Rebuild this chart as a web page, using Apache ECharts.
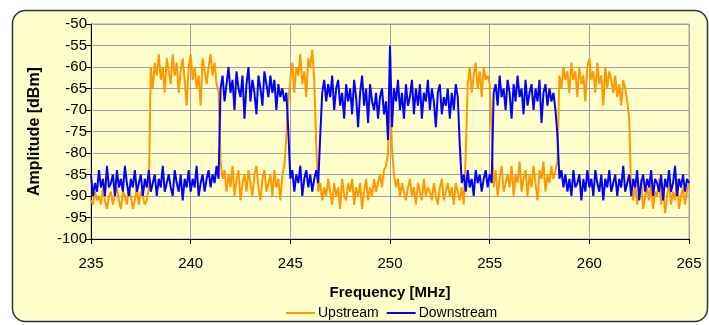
<!DOCTYPE html>
<html>
<head>
<meta charset="utf-8">
<script src="https://cdn.jsdelivr.net/npm/echarts@6/dist/echarts.min.js"></script>
<style>
html,body{margin:0;padding:0;background:#fff;}
#c{width:709px;height:325px;}
</style>
</head>
<body>
<div id="c"></div>
<script>
// Frequency grid (MHz) of the sampled spectrum
const freqStart = 235;
const freqStep = 0.1;
const xTicks = [235, 240, 245, 250, 255, 260, 265];
const yTicks = [-100, -95, -90, -85, -80, -75, -70, -65, -60, -55, -50];
const seriesNames = ['Upstream', 'Downstream'];

// Amplitude [dBm], one value per 0.1 MHz
const upstream = [
 -91,-92,-89,-91,-90,-92,-88,-91,-93,-90,
 -89,-92,-90,-88,-91,-93,-89,-90,-92,-88,
 -90,-93,-91,-88,-92,-89,-90,-92,-91,-88,
 -60,-65,-59,-62,-57,-63,-60,-66,-58,-61,
 -64,-57,-62,-59,-66,-61,-58,-63,-69,-60,
 -57,-63,-60,-65,-62,-69,-58,-61,-64,-60,
 -57,-62,-59,-64,-66,-82,-86,-84,-89,-85,
 -88,-83,-90,-86,-84,-91,-87,-85,-89,-84,
 -87,-90,-85,-83,-88,-91,-86,-84,-89,-87,
 -85,-90,-84,-88,-86,-91,-85,-83,-76,-68,
 -63,-59,-66,-60,-62,-57,-64,-61,-67,-58,
 -60,-56,-63,-78,-89,-87,-91,-88,-90,-86,
 -89,-92,-87,-90,-88,-93,-86,-90,-91,-87,
 -89,-86,-92,-88,-90,-87,-93,-89,-86,-91,
 -88,-90,-86,-89,-87,-85,-88,-84,-83,-80,
 -65,-79,-85,-88,-86,-90,-87,-89,-91,-88,
 -86,-90,-88,-92,-87,-89,-91,-86,-90,-88,
 -89,-91,-87,-90,-92,-88,-86,-91,-89,-87,
 -90,-88,-92,-87,-89,-91,-88,-92,-80,-64,
 -60,-66,-62,-59,-65,-61,-67,-60,-63,-62,
 -64,-75,-88,-84,-90,-86,-83,-89,-87,-85,
 -88,-83,-90,-85,-87,-82,-89,-86,-84,-90,
 -85,-88,-83,-87,-91,-84,-86,-82,-89,-85,
 -87,-83,-86,-84,-82,-62,-65,-60,-63,-61,
 -66,-59,-63,-61,-67,-60,-64,-62,-68,-60,
 -58,-63,-61,-66,-59,-64,-62,-69,-60,-65,
 -61,-63,-66,-62,-67,-64,-69,-63,-65,-68,
 -72,-89,-91,-87,-92,-89,-86,-93,-90,-88,
 -91,-87,-93,-89,-90,-86,-92,-88,-94,-90,
 -87,-92,-89,-91,-86,-93,-90,-88,-92,-89,
 -87
];
const downstream = [
 -85,-90,-87,-89,-84,-88,-86,-90,-83,-88,
 -87,-85,-90,-84,-88,-86,-89,-83,-87,-90,
 -86,-88,-84,-89,-87,-85,-90,-86,-88,-84,
 -89,-87,-85,-90,-86,-88,-83,-89,-87,-85,
 -88,-90,-84,-87,-89,-85,-91,-86,-88,-84,
 -89,-86,-88,-83,-90,-87,-85,-89,-86,-84,
 -88,-85,-87,-83,-86,-65,-62,-68,-64,-60,
 -66,-63,-70,-61,-65,-67,-62,-72,-64,-60,
 -68,-63,-66,-71,-62,-65,-69,-61,-64,-67,
 -62,-66,-63,-70,-64,-67,-65,-68,-66,-75,
 -86,-84,-89,-85,-87,-83,-90,-86,-84,-88,
 -85,-89,-86,-84,-87,-76,-66,-63,-68,-64,
 -67,-62,-70,-65,-63,-69,-66,-72,-64,-68,
 -65,-71,-63,-67,-74,-66,-62,-69,-65,-73,
 -64,-68,-70,-66,-72,-67,-65,-71,-68,-77,
 -55,-74,-65,-68,-63,-70,-66,-72,-64,-69,
 -67,-63,-71,-65,-69,-64,-72,-66,-68,-63,
 -70,-65,-68,-74,-66,-64,-71,-67,-69,-65,
 -72,-66,-70,-64,-67,-78,-87,-85,-89,-84,
 -88,-86,-90,-84,-87,-85,-89,-86,-84,-88,
 -85,-87,-66,-64,-69,-62,-67,-65,-70,-63,
 -66,-72,-64,-68,-62,-67,-65,-71,-63,-69,
 -66,-64,-70,-65,-68,-63,-73,-66,-64,-69,
 -65,-68,-66,-70,-76,-86,-84,-88,-85,-89,
 -86,-90,-84,-88,-87,-85,-91,-86,-89,-84,
 -88,-86,-90,-84,-87,-89,-85,-91,-86,-88,
 -84,-89,-87,-85,-90,-86,-88,-83,-89,-87,
 -85,-90,-86,-88,-84,-91,-87,-85,-89,-86,
 -88,-84,-90,-86,-87,-89,-85,-91,-86,-88,
 -84,-89,-87,-83,-90,-86,-88,-85,-89,-86,
 -87
];

function pairs(arr){
  return arr.map((v,i)=>[Math.round((freqStart + i*freqStep)*10)/10, v]);
}

const FONT = '"Liberation Sans", Arial, sans-serif';
const chart = echarts.init(document.getElementById('c'), null, {renderer:'canvas'});
chart.setOption({
  animation:false,
  backgroundColor:'#ffffff',
  graphic:[{
    type:'rect', z:-100, silent:true,
    shape:{x:12.5, y:10.5, width:695, height:311, r:13},
    style:{fill:'#FFFFCC', stroke:'#333333', lineWidth:1.5}
  }],
  grid:{left:91, right:20, top:24, bottom:86, show:true, backgroundColor:'#FFFFCC', borderColor:'#A0A0A0', borderWidth:1},
  legend:{
    left:281, top:301, itemGap:8, itemWidth:29, itemHeight:2, icon:'rect',
    textStyle:{fontFamily:FONT, fontSize:14, color:'#000', padding:[0,0,0,-2]},
    data:seriesNames
  },
  xAxis:{
    type:'value', min:xTicks[0], max:xTicks[xTicks.length-1], interval:5,
    name:'Frequency [MHz]', nameLocation:'middle', nameGap:46,
    nameTextStyle:{fontFamily:FONT, fontSize:15, fontWeight:'bold', color:'#000'},
    axisLine:{show:true, onZero:false, lineStyle:{color:'#000', width:1}},
    axisTick:{show:true, inside:false, length:5, lineStyle:{color:'#000'}},
    axisLabel:{fontFamily:FONT, fontSize:15, color:'#000', margin:17},
    splitLine:{show:true, lineStyle:{color:'#A0A0A0', width:1}}
  },
  yAxis:{
    type:'value', min:yTicks[0], max:yTicks[yTicks.length-1], interval:5,
    name:'Amplitude [dBm]', nameLocation:'middle', nameGap:48,
    nameTextStyle:{fontFamily:FONT, fontSize:16, fontWeight:'bold', color:'#000'},
    axisLine:{show:true, onZero:false, lineStyle:{color:'#000', width:1}},
    axisTick:{show:true, inside:false, length:5, lineStyle:{color:'#000'}},
    axisLabel:{fontFamily:FONT, fontSize:15, color:'#000', margin:4},
    splitLine:{show:true, lineStyle:{color:'#A0A0A0', width:1}}
  },
  series:[
    {name:seriesNames[0], type:'line', data:pairs(upstream), showSymbol:false, symbol:'none', sampling:null,
     color:'#FF9900', lineStyle:{color:'#FF9900', width:2}, z:2},
    {name:seriesNames[1], type:'line', data:pairs(downstream), showSymbol:false, symbol:'none', sampling:null,
     color:'#0000FF', lineStyle:{color:'#0000FF', width:2}, z:3}
  ]
});
</script>
</body>
</html>
